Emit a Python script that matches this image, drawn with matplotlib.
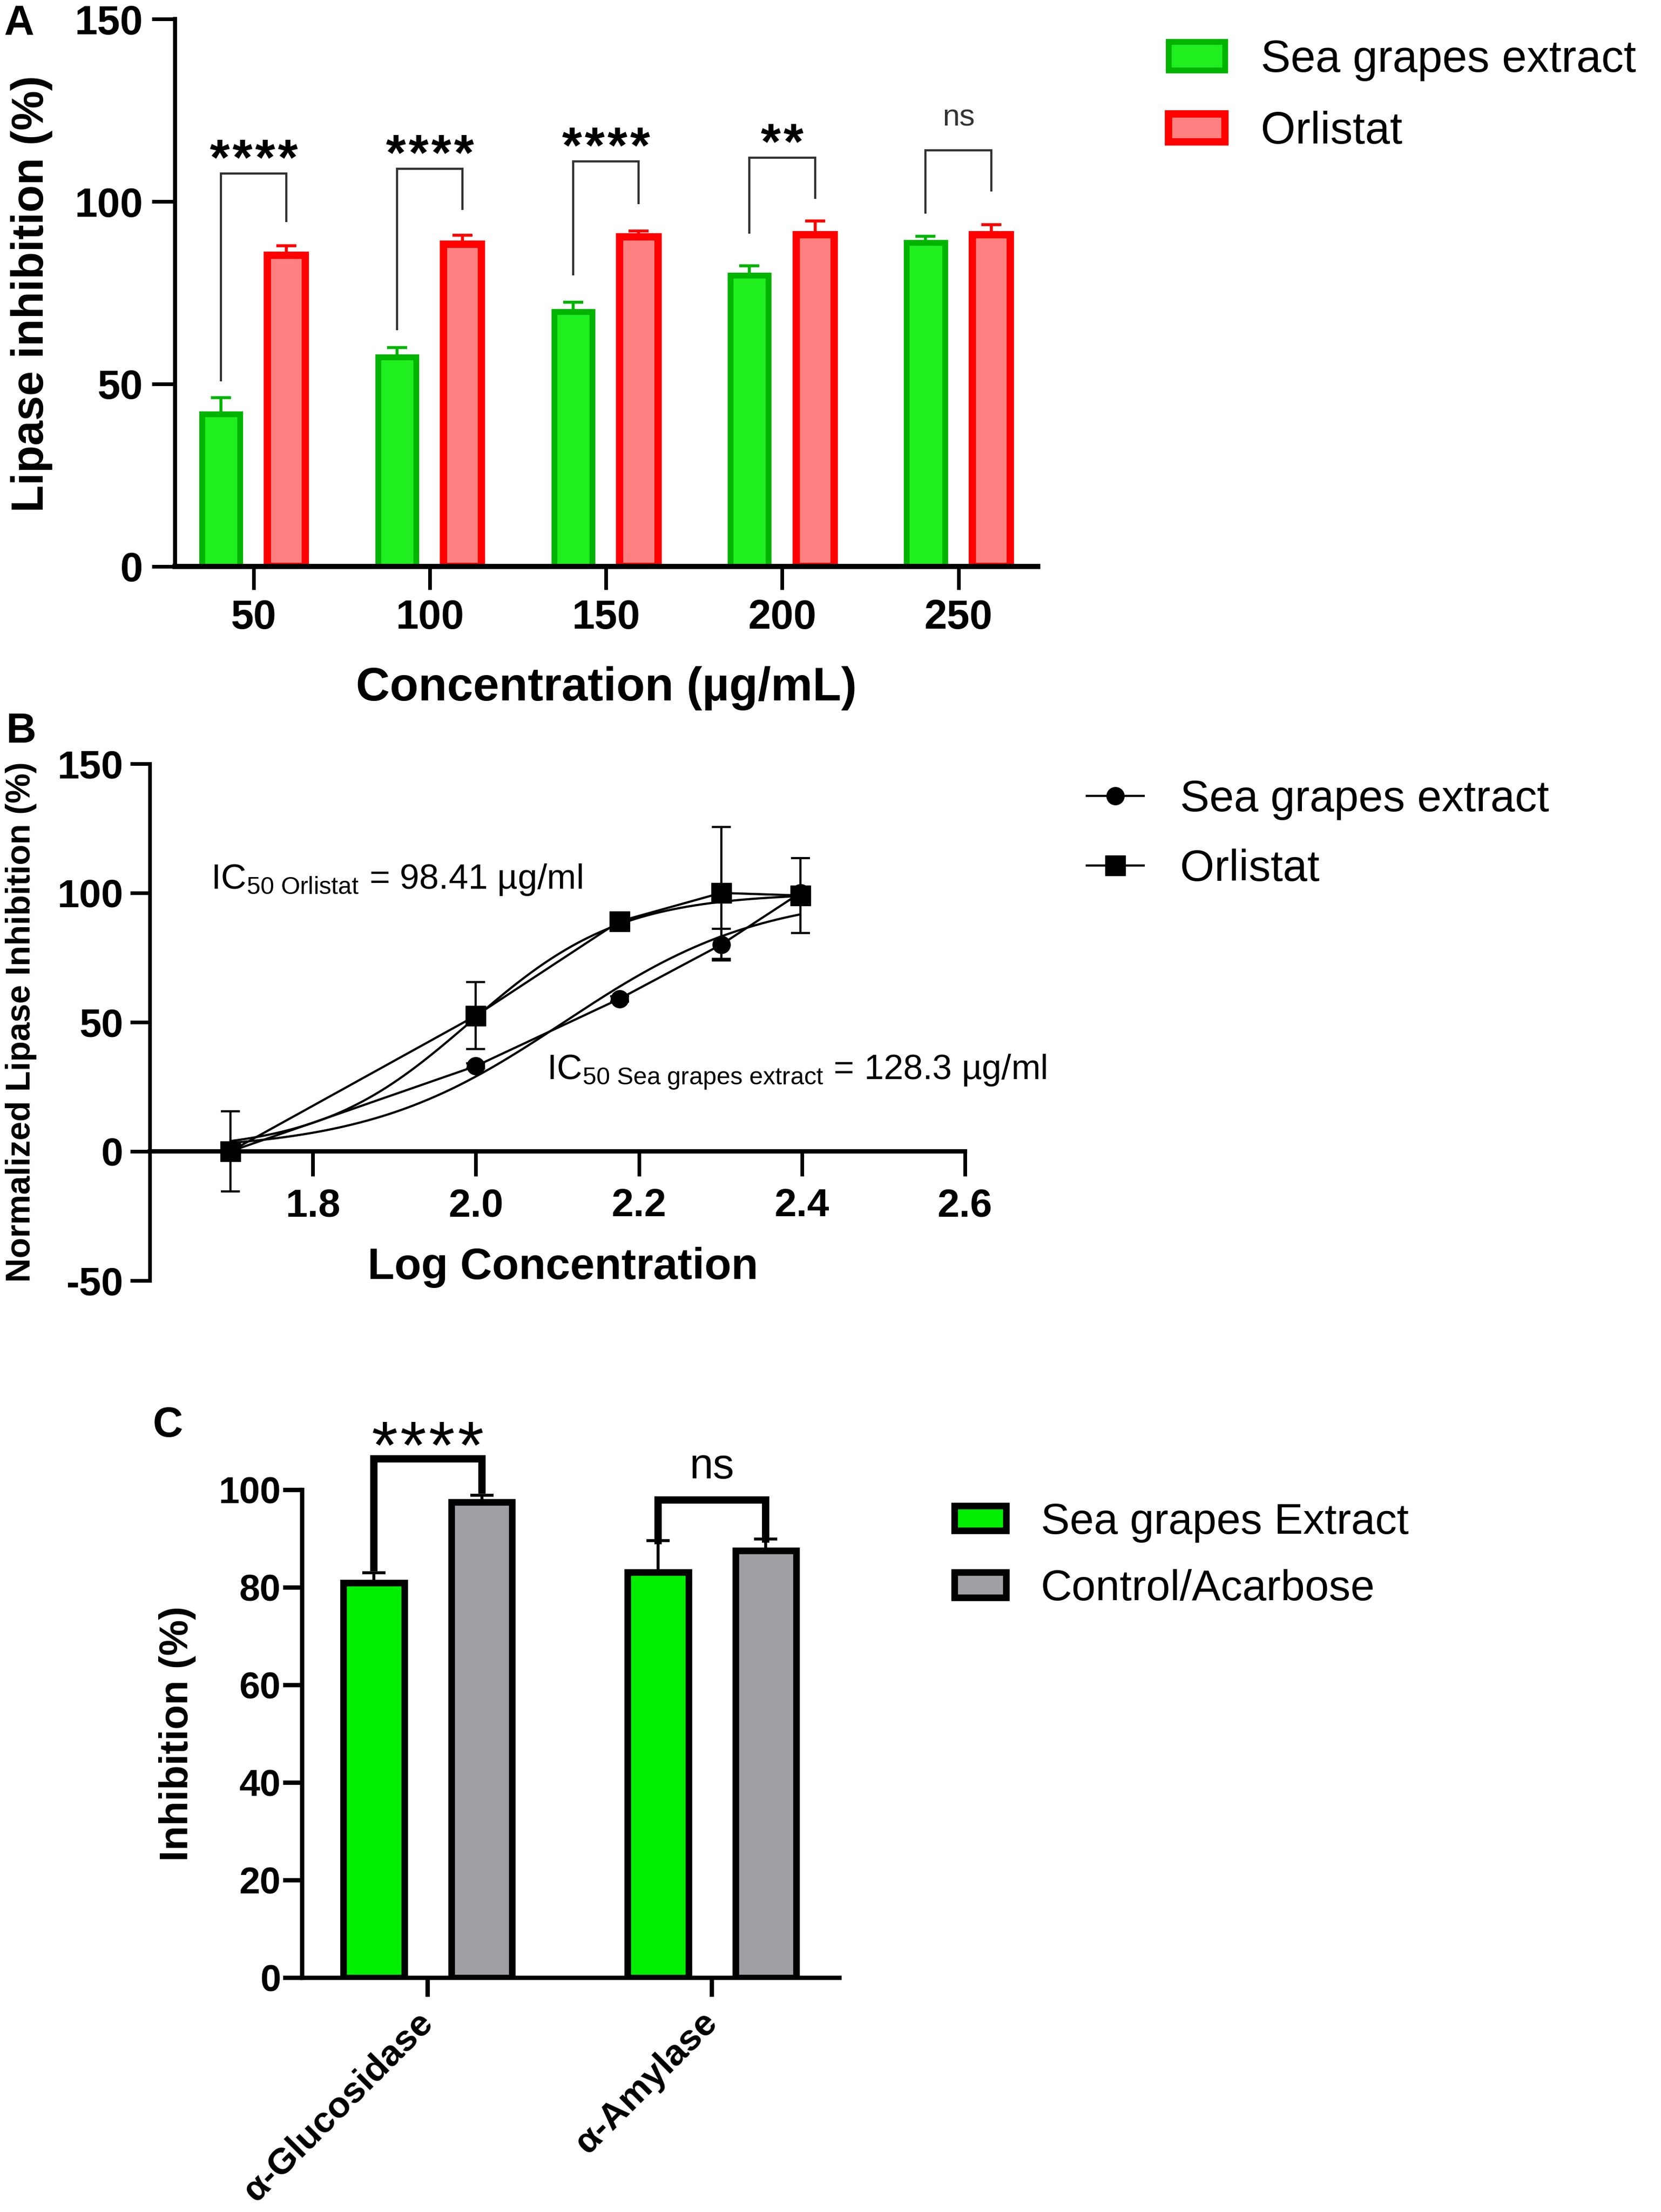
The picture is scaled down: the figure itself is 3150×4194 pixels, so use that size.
import numpy as np
import matplotlib
matplotlib.use("Agg")
import matplotlib.pyplot as plt
from matplotlib.transforms import ScaledTranslation

plt.rcParams["font.family"] = ["Liberation Sans", "DejaVu Sans"]
plt.rcParams["mathtext.fontset"] = "custom"
plt.rcParams["mathtext.rm"] = "Liberation Sans"
plt.rcParams["mathtext.it"] = "Liberation Sans:italic"
plt.rcParams["mathtext.bf"] = "Liberation Sans:bold"
plt.rcParams["axes.unicode_minus"] = False

# ─── Panel A: lipase inhibition bars ──────────────────────────────────────────
conc = [50, 100, 150, 200, 250]
sea_a = [41.8, 57.3, 69.8, 79.8, 88.8]
sea_a_err = [4.5, 2.7, 2.6, 2.5, 1.6]
orl_a = [85.3, 88.3, 90.3, 90.9, 90.9]
orl_a_err = [2.5, 2.4, 1.6, 3.7, 2.7]
sig_a = ["****", "****", "****", "**", "ns"]
brk_top_a = [107.7, 109, 111, 112, 114]
brk_left_a = [51, 65, 80, 91.5, 97]
brk_right_a = [94.6, 98, 99.6, 101, 103]

# ─── Panel B: normalized dose response ────────────────────────────────────────
sea_b = [0, 33, 59, 80, 100]
sea_b_err = [0, 1, 1, 6.2, 0]
orl_b = [0, 52.5, 89, 100, 99]
orl_b_err = [15.5, 13, 1, 25.5, 14.5]
ic50_orl = 98.41
ic50_sea = 128.3
hill_orl = 4.7
hill_sea = 3.6

# ─── Panel C: glucosidase / amylase ───────────────────────────────────────────
enzymes = ["α-Glucosidase", "α-Amylase"]
sea_c = [81.0, 83.1]
sea_c_err = [2.0, 6.5]
acar_c = [97.5, 87.6]
acar_c_err = [1.4, 2.3]
sig_c = ["****", "ns"]
brk_top_c = [106.4, 97.9]
brk_left_c = [84.1, 89.6]
brk_right_c = [100, 89.9]

W, H = 3150, 4194
fig = plt.figure(figsize=(W / 100, H / 100), dpi=100)


def box(left, top, right, bottom):
    return [left / W, 1 - bottom / H, (right - left) / W, (bottom - top) / H]


def hill(x, log_ic50, slope):
    return 100.0 / (1.0 + 10 ** ((log_ic50 - x) * slope))


def stars(ax, x, y, label, size, spacing, weight):
    """Draw significance asterisks one by one so their spacing can be set."""
    n = len(label)
    for k in range(n):
        ax.annotate("*", xy=(x, y), xytext=((k - (n - 1) / 2) * spacing, 0),
                    textcoords="offset points", ha="center", va="baseline",
                    fontsize=size, fontweight=weight, annotation_clip=False)


# ── A ─────────────────────────────────────────────────────────────────────────
ax = fig.add_axes(box(332, 36, 1968, 1074))
x = np.array(conc, dtype=float)
off, bw = 9.3, 10.8
bars_sea = ax.bar(x - off, sea_a, bw, color="#1FEF1F", edgecolor="#00B400",
                  linewidth=8, zorder=2, label="Sea grapes extract")
bars_orl = ax.bar(x + off, orl_a, bw, color="#FF8080", edgecolor="#FF0000",
                  linewidth=10, zorder=2, label="Orlistat")
ax.errorbar(x - off, sea_a, yerr=[np.zeros(len(x)), sea_a_err], fmt="none",
            ecolor="#00B400", elinewidth=4, capsize=14, capthick=4, zorder=1.9)
ax.errorbar(x + off, orl_a, yerr=[np.zeros(len(x)), orl_a_err], fmt="none",
            ecolor="#FF0000", elinewidth=4, capsize=14, capthick=4, zorder=1.9)

for i, xi in enumerate(x):
    xl, xr = xi - off, xi + off
    ax.plot([xl, xl, xr, xr], [brk_left_a[i], brk_top_a[i], brk_top_a[i], brk_right_a[i]],
            color="#333333", lw=3, clip_on=False, solid_joinstyle="miter")
    if sig_a[i] == "ns":
        ax.text(xi, brk_top_a[i] + 6.7, sig_a[i], ha="center", va="baseline",
                fontsize=42, color="#333333")
    else:
        stars(ax, xi, brk_top_a[i] - 0.3, sig_a[i], 70, 31, "bold")

ax.set_xlim(27.7, 272.5)
ax.set_ylim(0, 150)
ax.set_xticks(conc)
ax.set_yticks([0, 50, 100, 150])
for s in ["top", "right"]:
    ax.spines[s].set_visible(False)
ax.spines["left"].set_linewidth(5.5)
ax.spines["bottom"].set_linewidth(7)
ax.tick_params(axis="both", length=32, width=5, labelsize=56, pad=12)
for lab in ax.get_xticklabels() + ax.get_yticklabels():
    lab.set_fontweight("bold")
ax.set_xlabel("Concentration (µg/mL)", fontsize=64, fontweight="bold")
ax.set_ylabel("Lipase inhibition (%)", fontsize=61, fontweight="bold")
ax.xaxis.set_label_coords(0.5, -0.223)
ax.xaxis.label.set_va("center")
ax.yaxis.set_label_coords(-0.166, 0.498)
ax.yaxis.label.set_va("center")
ax.legend(handles=[bars_sea, bars_orl], loc="center left",
          bbox_to_anchor=(2216 / W, 1 - 182 / H), bbox_transform=fig.transFigure,
          frameon=False, fontsize=61, handlelength=1.26, handleheight=0.6,
          handletextpad=0.8, labelspacing=0.67, borderpad=0, borderaxespad=0)

# ── B ─────────────────────────────────────────────────────────────────────────
bx = fig.add_axes(box(284, 1448, 1830, 2428))
logc = np.log10(conc)
xs = np.linspace(logc[0], logc[-1], 300)
bx.plot(xs, hill(xs, np.log10(ic50_orl), hill_orl), color="black", lw=3, zorder=2)
bx.plot(xs, hill(xs, np.log10(ic50_sea), hill_sea), color="black", lw=3, zorder=2)
bx.errorbar(logc, orl_b, yerr=orl_b_err, fmt="none", ecolor="black",
            elinewidth=3, capsize=13, capthick=3, zorder=2)
bx.errorbar(logc, sea_b, yerr=sea_b_err, fmt="none", ecolor="black",
            elinewidth=3, capsize=13, capthick=3, zorder=2)
l_sea, = bx.plot(logc, sea_b, "-o", color="black", lw=3, ms=24, zorder=3,
                 label="Sea grapes extract")
l_orl, = bx.plot(logc, orl_b, "-s", color="black", lw=3, ms=27, zorder=4,
                 label="Orlistat")

bx.text(1.675, 101.6, r"IC$_{\mathrm{50\ Orlistat}}$ = 98.41 µg/ml",
        ha="left", va="baseline", fontsize=48)
bx.text(2.087, 27.9, r"IC$_{\mathrm{50\ Sea\ grapes\ extract}}$ = 128.3 µg/ml",
        ha="left", va="baseline", fontsize=48)

bx.set_xlim(1.6, 2.6)
bx.set_ylim(-50, 150)
bx.set_xticks([1.8, 2.0, 2.2, 2.4, 2.6])
bx.set_xticklabels(["1.8", "2.0", "2.2", "2.4", "2.6"])
bx.set_yticks([-50, 0, 50, 100, 150])
for s in ["top", "right"]:
    bx.spines[s].set_visible(False)
bx.spines["bottom"].set_position(("data", 0))
bx.spines["left"].set_linewidth(5)
bx.spines["bottom"].set_linewidth(6)
bx.tick_params(axis="x", length=34, width=5, labelsize=54, pad=16)
bx.tick_params(axis="y", length=27, width=5, labelsize=54, pad=9)
for lab in bx.get_xticklabels() + bx.get_yticklabels():
    lab.set_fontweight("bold")
bx.set_xlabel("Log Concentration", fontsize=60, fontweight="bold")
bx.xaxis.set_label_coords(0.507, 0.026)
bx.xaxis.label.set_va("center")
bx.set_ylabel("Normalized Lipase Inhibition (%)", fontsize=46, fontweight="bold")
bx.yaxis.set_label_coords(-0.158, 0.5)
bx.yaxis.label.set_va("center")
bx.legend(handles=[l_sea, l_orl], loc="center left",
          bbox_to_anchor=(2061 / W, 1 - 1582 / H), bbox_transform=fig.transFigure,
          frameon=False, fontsize=60, handlelength=1.29, handletextpad=0.83,
          labelspacing=0.65, borderpad=0, borderaxespad=0, markerscale=1.0)

# ── C ─────────────────────────────────────────────────────────────────────────
cx = fig.add_axes(box(573, 2825, 1592, 3750))
xc = np.arange(len(enzymes), dtype=float)
offc, bwc = 0.19, 0.215
bars_c1 = cx.bar(xc - offc, sea_c, bwc, color="#00EE00", edgecolor="black",
                 linewidth=9, zorder=2, label="Sea grapes Extract")
bars_c2 = cx.bar(xc + offc, acar_c, bwc, color="#A0A0A4", edgecolor="black",
                 linewidth=9, zorder=2, label="Control/Acarbose")
cx.errorbar(xc - offc, sea_c, yerr=[np.zeros(len(xc)), sea_c_err], fmt="none",
            ecolor="black", elinewidth=4, capsize=16, capthick=4, zorder=1.9,
            clip_on=False)
cx.errorbar(xc + offc, acar_c, yerr=[np.zeros(len(xc)), acar_c_err], fmt="none",
            ecolor="black", elinewidth=4, capsize=16, capthick=4, zorder=1.9,
            clip_on=False)

for i, xi in enumerate(xc):
    xl, xr = xi - offc, xi + offc
    cx.plot([xl, xl, xr, xr], [brk_left_c[i], brk_top_c[i], brk_top_c[i], brk_right_c[i]],
            color="black", lw=10, clip_on=False, solid_joinstyle="miter")
    if sig_c[i] == "ns":
        cx.text(xi, brk_top_c[i] + 4.5, sig_c[i], ha="center", va="baseline",
                fontsize=58)
    else:
        stars(cx, xi, brk_top_c[i] - 2.0, sig_c[i], 92, 39, "normal")

cx.set_xlim(-0.442, 1.449)
cx.set_ylim(0, 100)
cx.set_yticks([0, 20, 40, 60, 80, 100])
cx.set_xticks(xc)
cx.set_xticklabels(enzymes, rotation=45, ha="right", va="center",
                   rotation_mode="anchor", fontweight="bold", fontsize=50)
shift = ScaledTranslation(10 / 72, 0, fig.dpi_scale_trans)
for lab in cx.get_xticklabels():
    lab.set_transform(lab.get_transform() + shift)
for s in ["top", "right"]:
    cx.spines[s].set_visible(False)
cx.spines["left"].set_linewidth(6)
cx.spines["bottom"].set_linewidth(6)
cx.tick_params(axis="y", length=26, width=6, labelsize=51, pad=3)
cx.tick_params(axis="x", length=26, width=6, pad=28)
for lab in cx.get_yticklabels():
    lab.set_fontweight("bold")
cx.set_ylabel("Inhibition (%)", fontsize=55, fontweight="bold")
cx.yaxis.set_label_coords(-0.232, 0.5)
cx.yaxis.label.set_va("center")
cx.legend(handles=[bars_c1, bars_c2], loc="center left",
          bbox_to_anchor=(1810 / W, 1 - 2950 / H), bbox_transform=fig.transFigure,
          frameon=False, fontsize=59, handlelength=1.2, handleheight=0.52,
          handletextpad=0.8, labelspacing=0.62, borderpad=0, borderaxespad=0)

# ── panel letters ─────────────────────────────────────────────────────────────
fig.text(7 / W, 1 - 8 / H, "A", fontsize=57, fontweight="bold", ha="left", va="top")
fig.text(12 / W, 1 - 1350 / H, "B", fontsize=57, fontweight="bold", ha="left", va="top")
fig.text(290 / W, 1 - 2666 / H, "C", fontsize=57, fontweight="bold", ha="left", va="top")

fig.savefig("out.png", dpi=100)
